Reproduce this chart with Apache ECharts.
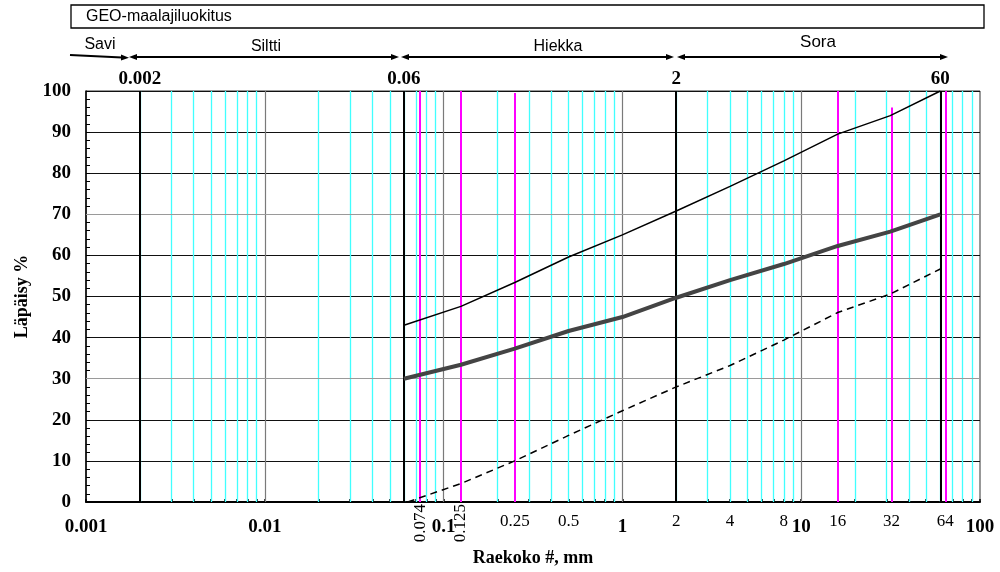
<!DOCTYPE html>
<html><head><meta charset="utf-8">
<script src="https://cdn.jsdelivr.net/npm/echarts@6/dist/echarts.min.js"></script>
<style>html,body{margin:0;padding:0;background:#fff}#c{width:1000px;height:572px}</style>
</head><body><div id="c"></div>
<script>
// ---- data ----
const sizes = [0.06, 0.125, 0.25, 0.5, 1, 2, 4, 8, 16, 31.5, 60];
const upperLimit = [43.0, 47.6, 53.4, 59.6, 65.0, 70.8, 76.8, 83.0, 89.5, 94.0, 100];
const sample = [30.0, 33.4, 37.3, 41.6, 45.0, 49.7, 54.0, 57.9, 62.3, 65.8, 70.0];
const lowerSizes = [0.063, 0.125, 0.25, 0.5, 1, 2, 4, 8, 16, 31.5, 60];
const lowerLimit = [0, 4.5, 10.0, 16.2, 22.2, 28.0, 33.2, 39.4, 46.1, 50.6, 56.7];

const minorGrid = [0.002, 0.003, 0.004, 0.005, 0.006, 0.007, 0.008, 0.009,
  0.02, 0.03, 0.04, 0.05, 0.06, 0.07, 0.08, 0.09,
  0.2, 0.3, 0.4, 0.5, 0.6, 0.7, 0.8, 0.9,
  2, 3, 4, 5, 6, 7, 8, 9,
  20, 30, 40, 50, 60, 70, 80, 90];
const decadeGrid = [0.01, 0.1, 1, 10];
const classBounds = [0.002, 0.06, 2, 60];
const classBoundText = ['0.002', '0.06', '2', '60'];
const sieves = [0.074, 0.125, 0.25, 16, 32, 64];
const sieveTops = [100, 100, 99.5, 100, 96, 100];
const grayLevels = [30, 70];

const decadeTicks = [0.001, 0.01, 0.1, 1, 10, 100];
const decadeText = ['0.001', '0.01', '0.1', '1', '10', '100'];
const sieveTicks = [0.25, 0.5, 2, 4, 8, 16, 32, 64];
const sieveText = ['0.25', '0.5', '2', '4', '8', '16', '32', '64'];
const rotatedTicks = [0.074, 0.125];
const rotatedText = ['0.074', '0.125'];

const classNames = ['Savi', 'Siltti', 'Hiekka', 'Sora'];

// ---- helpers ----
function fmt(vals, texts) {
  return function (v) {
    const i = vals.findIndex(x => Math.abs(Math.log10(x) - Math.log10(v)) < 1e-6);
    return i >= 0 ? texts[i] : '';
  };
}
function pairs(xs, ys) { return xs.map((x, i) => [x, ys[i]]); }
function vlines(vals, tops) {
  return vals.map((v, i) => ({ coords: [[v, 0], [v, tops ? tops[i] : 100]] }));
}
function hlines(vals) {
  return vals.map(v => ({ coords: [[0.001, v], [100, v]] }));
}

const SERIF = '"Liberation Serif", "Times New Roman", serif';
const SANS = '"Liberation Sans", Arial, sans-serif';
const allTicks = decadeTicks.concat(minorGrid);

const baseX = {
  type: 'log', logBase: 10, min: 0.001, max: 100, gridIndex: 0,
  splitLine: { show: false }, minorSplitLine: { show: false }
};

const chart = echarts.init(document.getElementById('c'), null, { renderer: 'canvas' });
chart.setOption({
  animation: false,
  backgroundColor: '#fff',
  grid: { left: 86, top: 91, width: 894, height: 412, show: true, borderColor: '#333', borderWidth: 1, containLabel: false },
  xAxis: [
    Object.assign({}, baseX, {
      position: 'bottom',
      axisLine: { show: true, onZero: false, lineStyle: { color: '#000', width: 2 } },
      axisTick: { show: true, inside: true, length: 3, customValues: allTicks, lineStyle: { color: '#000', width: 1.5 } },
      axisLabel: { show: true, customValues: decadeTicks, formatter: fmt(decadeTicks, decadeText),
        margin: 16, color: '#000', fontFamily: SERIF, fontWeight: 'bold', fontSize: 19 },
      name: 'Raekoko #, mm', nameLocation: 'middle', nameGap: 47,
      nameTextStyle: { fontFamily: SERIF, fontWeight: 'bold', fontSize: 18, color: '#000' }
    }),
    Object.assign({}, baseX, {
      position: 'bottom',
      axisLine: { show: false, onZero: false }, axisTick: { show: false },
      axisLabel: { show: true, customValues: sieveTicks, formatter: fmt(sieveTicks, sieveText),
        margin: 11, color: '#000', fontFamily: SERIF, fontSize: 17 }
    }),
    Object.assign({}, baseX, {
      position: 'bottom',
      axisLine: { show: false, onZero: false }, axisTick: { show: false },
      axisLabel: { show: true, customValues: rotatedTicks, formatter: fmt(rotatedTicks, rotatedText),
        rotate: 90, margin: 2, color: '#000', fontFamily: SERIF, fontSize: 17 }
    }),
    Object.assign({}, baseX, {
      position: 'top',
      axisLine: { show: false, onZero: false }, axisTick: { show: false },
      axisLabel: { show: true, customValues: classBounds, formatter: fmt(classBounds, classBoundText),
        margin: 2, color: '#000', fontFamily: SERIF, fontWeight: 'bold', fontSize: 19 }
    })
  ],
  yAxis: {
    type: 'value', min: 0, max: 100, interval: 10,
    axisLine: { show: true, onZero: false, lineStyle: { color: '#000', width: 1.5 } },
    axisTick: { show: true, inside: true, length: 4, lineStyle: { color: '#000' } },
    minorTick: { show: true, splitNumber: 5, length: 4, lineStyle: { color: '#000', width: 1 } },
    splitLine: { show: true, lineStyle: { color: '#111', width: 1 } },
    axisLabel: { margin: 15, color: '#000', fontFamily: SERIF, fontWeight: 'bold', fontSize: 19 },
    name: 'Läpäisy %', nameLocation: 'middle', nameRotate: 90, nameGap: 53,
    nameTextStyle: { fontFamily: SERIF, fontWeight: 'bold', fontSize: 18, color: '#000' }
  },
  series: [
    { type: 'lines', coordinateSystem: 'cartesian2d', xAxisIndex: 0, yAxisIndex: 0, silent: true, z: 1,
      lineStyle: { color: '#40FFFF', width: 1.3, opacity: 1 }, data: vlines(minorGrid) },
    { type: 'lines', coordinateSystem: 'cartesian2d', xAxisIndex: 0, yAxisIndex: 0, silent: true, z: 1,
      lineStyle: { color: '#7a7a7a', width: 1.2, opacity: 1 }, data: vlines(decadeGrid) },
    { type: 'lines', coordinateSystem: 'cartesian2d', xAxisIndex: 0, yAxisIndex: 0, silent: true, z: 1,
      lineStyle: { color: '#9a9a9a', width: 1.2, opacity: 1 }, data: hlines(grayLevels) },
    { type: 'lines', coordinateSystem: 'cartesian2d', xAxisIndex: 0, yAxisIndex: 0, silent: true, z: 2,
      lineStyle: { color: '#000', width: 2, opacity: 1 }, data: vlines(classBounds) },
    { type: 'lines', coordinateSystem: 'cartesian2d', xAxisIndex: 0, yAxisIndex: 0, silent: true, z: 2,
      lineStyle: { color: '#FF00FF', width: 2, opacity: 1 }, data: vlines(sieves, sieveTops) },
    { type: 'line', name: 'upper', xAxisIndex: 0, yAxisIndex: 0, z: 5, symbol: 'none', silent: true,
      lineStyle: { color: '#000', width: 1.5 }, data: pairs(sizes, upperLimit) },
    { type: 'line', name: 'sample', xAxisIndex: 0, yAxisIndex: 0, z: 5, symbol: 'none', silent: true,
      lineStyle: { color: '#444', width: 4 }, data: pairs(sizes, sample) },
    { type: 'line', name: 'lower', xAxisIndex: 0, yAxisIndex: 0, z: 5, symbol: 'none', silent: true,
      lineStyle: { color: '#000', width: 1.5, type: [7, 5] }, data: pairs(lowerSizes, lowerLimit) }
  ],
  graphic: [
    { type: 'rect', shape: { x: 71, y: 5, width: 913, height: 23 }, style: { fill: 'none', stroke: '#000', lineWidth: 1.3 } },
    { type: 'text', x: 86, y: 17, style: { text: 'GEO-maalajiluokitus', font: '16px ' + SANS, fill: '#000', verticalAlign: 'middle', textVerticalAlign: 'middle' } },
    // Savi arrow
    { type: 'line', shape: { x1: 70, y1: 55, x2: 122, y2: 57.5 }, style: { stroke: '#000', lineWidth: 2 } },
    { type: 'polygon', shape: { points: [[129, 57.8], [121, 54.5], [121, 60.5]] }, style: { fill: '#000' } },
    // Siltti
    { type: 'line', shape: { x1: 134, y1: 57, x2: 394, y2: 57 }, style: { stroke: '#000', lineWidth: 2 } },
    { type: 'polygon', shape: { points: [[129, 57], [137, 54], [137, 60]] }, style: { fill: '#000' } },
    { type: 'polygon', shape: { points: [[399, 57], [391, 54], [391, 60]] }, style: { fill: '#000' } },
    // Hiekka
    { type: 'line', shape: { x1: 406, y1: 57, x2: 669, y2: 57 }, style: { stroke: '#000', lineWidth: 2 } },
    { type: 'polygon', shape: { points: [[401, 57], [409, 54], [409, 60]] }, style: { fill: '#000' } },
    { type: 'polygon', shape: { points: [[674, 57], [666, 54], [666, 60]] }, style: { fill: '#000' } },
    // Sora
    { type: 'line', shape: { x1: 682, y1: 57, x2: 943, y2: 57 }, style: { stroke: '#000', lineWidth: 2 } },
    { type: 'polygon', shape: { points: [[677, 57], [685, 54], [685, 60]] }, style: { fill: '#000' } },
    { type: 'polygon', shape: { points: [[948, 57], [940, 54], [940, 60]] }, style: { fill: '#000' } },
    { type: 'text', x: 100, y: 45, style: { text: classNames[0], font: '16px ' + SANS, fill: '#000', align: 'center', verticalAlign: 'middle', textAlign: 'center', textVerticalAlign: 'middle' } },
    { type: 'text', x: 266, y: 47, style: { text: classNames[1], font: '16px ' + SANS, fill: '#000', align: 'center', verticalAlign: 'middle', textAlign: 'center', textVerticalAlign: 'middle' } },
    { type: 'text', x: 558, y: 47, style: { text: classNames[2], font: '16px ' + SANS, fill: '#000', align: 'center', verticalAlign: 'middle', textAlign: 'center', textVerticalAlign: 'middle' } },
    { type: 'text', x: 818, y: 42, style: { text: classNames[3], font: '17px ' + SANS, fill: '#000', align: 'center', verticalAlign: 'middle', textAlign: 'center', textVerticalAlign: 'middle' } }
  ]
});
</script></body></html>
